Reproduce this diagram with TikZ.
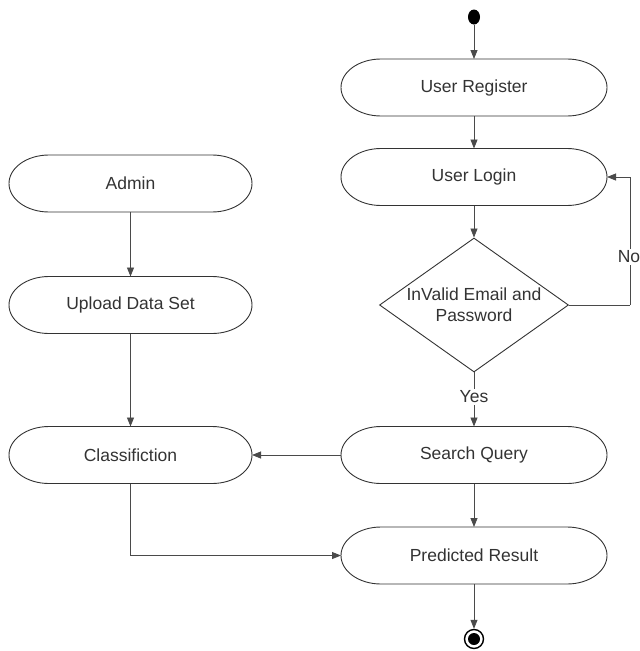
\documentclass[tikz,border=0pt]{standalone}
\usepackage{fontspec}
\setmainfont{Liberation Sans}
\usetikzlibrary{shapes.geometric,arrows.meta}
\definecolor{ln}{HTML}{333333}
\definecolor{ar}{HTML}{4a4a4a}
\begin{document}
\begin{tikzpicture}[x=1pt,y=-1pt,
  act/.style={draw=none, outer sep=0pt, minimum height=57pt, inner sep=0pt, font=\fontsize{17.5}{21}\selectfont, text=ln},
  wide/.style={act, minimum width=266pt},
  narrow/.style={act, minimum width=243pt},
  outline/.style={draw=ln, line width=0.9pt},
  flow/.style={draw=ar, line width=0.8pt, -{Triangle[length=9pt,width=7pt]}},
  plain/.style={draw=ar, line width=0.8pt},
  lbl/.style={fill=white, inner sep=1.5pt, font=\fontsize{17.5}{21}\selectfont, text=ln}
]
\useasboundingbox (0,0) rectangle (640,651);
\node[fill=black, ellipse, minimum width=12pt, minimum height=15pt, inner sep=0pt] (start) at (474,17) {};
\node[wide] (reg) at (474,87.5) {User Register};
\node[wide] (login) at (474,177) {User Login};
\node[draw=ln, line width=0.9pt, diamond, aspect=1.41, minimum width=189pt, minimum height=134pt, inner sep=0pt, align=center, font=\fontsize{17.5}{21}\selectfont, text=ln] (dec) at (474,305) {InValid Email and\\Password};
\node[wide] (search) at (474,455) {Search Query};
\node[wide] (pred) at (474,555.5) {Predicted Result};
\node[draw=black, line width=1.4pt, circle, minimum size=19pt, inner sep=0pt] (end) at (474,639) {};
\node[fill=black, circle, minimum size=12pt, inner sep=0pt] (endin) at (474,639) {};
\node[narrow] (admin) at (130.5,183.5) {Admin};
\node[narrow] (upload) at (130.5,305) {Upload Data Set};
\node[narrow] (class) at (130.5,455) {Classifiction};
\foreach \n in {reg,login,search,pred,admin,upload,class}{
  \draw[outline] ([xshift=40pt]\n.north west) -- ([xshift=-40pt]\n.north east)
    arc[start angle=90, end angle=-90, x radius=40pt, y radius=28.5pt]
    -- ([xshift=40pt]\n.south west)
    arc[start angle=270, end angle=90, x radius=40pt, y radius=28.5pt] -- cycle;
}
\coordinate (nocorner1) at (630,305);
\coordinate (nocorner2) at (630,177);
\coordinate (classcorner) at (130.5,555.5);

\draw[flow] (start) -- (reg);
\draw[flow] (reg) -- (login);
\draw[flow] (login) -- (dec);
\draw[plain] (dec.east) -- (nocorner1);
\draw[flow] (nocorner1) -- (nocorner2) -- (login.east);
\node[lbl] (no) at (629,257) {No};
\draw[flow] (dec.south) -- (search);
\node[lbl] (yes) at (474,397) {Yes};
\draw[flow] (search) -- (pred);
\draw[flow] (pred) -- (end);
\draw[flow] (admin) -- (upload);
\draw[flow] (upload) -- (class);
\draw[flow] (search) -- (class);
\draw[flow] (class.south) -- (classcorner) -- (pred.west);
\end{tikzpicture}
\end{document}
